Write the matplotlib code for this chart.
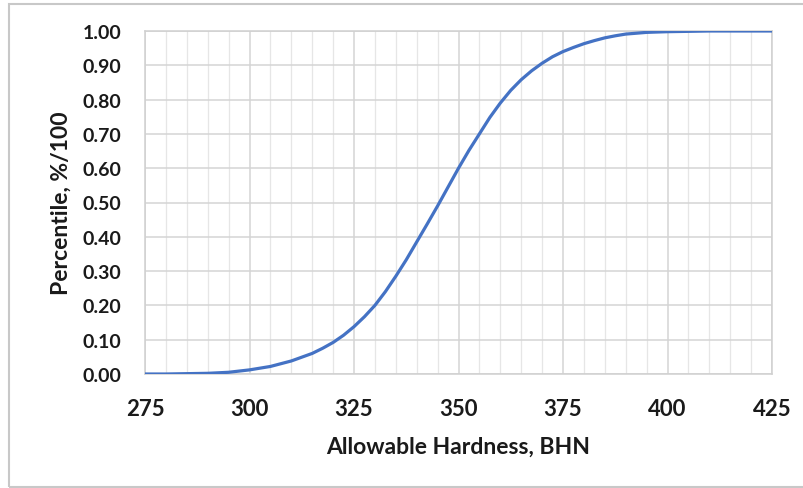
import matplotlib
matplotlib.use("Agg")
import matplotlib.pyplot as plt
from matplotlib.patches import Rectangle
from matplotlib.ticker import MultipleLocator

plt.rcParams['font.family'] = ['Lato', 'DejaVu Sans']

# Cumulative distribution of allowable hardness
hardness = [275, 280, 285, 290, 295, 300, 305, 310, 315, 317.5, 320, 322.5,
            325, 327.5, 330, 332.5, 335, 337.5, 340, 342.5, 345, 347.5, 350, 352.5,
            355, 357.5, 360, 362.5, 365, 367.5, 370, 372.5, 375, 377.5, 380, 382.5,
            385, 387.5, 390, 395, 400, 405, 410, 415, 420, 425]
percentile = [0.000, 0.000, 0.001, 0.002, 0.005, 0.012, 0.022, 0.038, 0.060, 0.075, 0.092, 0.113,
              0.138, 0.167, 0.200, 0.240, 0.285, 0.333, 0.385, 0.437, 0.490, 0.545, 0.600, 0.652,
              0.700, 0.748, 0.790, 0.827, 0.858, 0.884, 0.906, 0.925, 0.940, 0.952, 0.963, 0.972,
              0.980, 0.986, 0.991, 0.996, 0.998, 0.999, 1.000, 1.000, 1.000, 1.000]

x_ticks = [275, 300, 325, 350, 375, 400, 425]
y_ticks = [0.0, 0.1, 0.2, 0.3, 0.4, 0.5, 0.6, 0.7, 0.8, 0.9, 1.0]

W, H = 804, 489
fig = plt.figure(figsize=(W / 100, H / 100), dpi=100)
fig.patch.set_facecolor('white')

# outer chart border
fig.patches.append(Rectangle((9 / W, 1 - 488 / H), 810 / W, 483 / H,
                             transform=fig.transFigure, fill=False,
                             edgecolor='#c8c8c8', linewidth=1.5))

ax = fig.add_axes([145 / W, 1 - 375 / H, 627 / W, 343 / H])
ax.plot(hardness, percentile, color='#4472C4', linewidth=2.3,
        solid_capstyle='round', solid_joinstyle='round', zorder=3)

ax.set_xlim(275, 425)
ax.set_ylim(0, 1.0)
ax.set_xticks(x_ticks)
ax.set_yticks(y_ticks)
ax.set_yticklabels(['{:.2f}'.format(v) for v in y_ticks])
ax.xaxis.set_minor_locator(MultipleLocator(5))

ax.grid(which='major', color='#d4d4d4', linewidth=1.1, zorder=0)
ax.grid(which='minor', axis='x', color='#e6e6e6', linewidth=0.9, zorder=0)
ax.set_axisbelow(True)

for side in ['left', 'right', 'top', 'bottom']:
    ax.spines[side].set_color('#d0d0d0')
    ax.spines[side].set_linewidth(1.1)

ax.tick_params(which='both', length=0)
ax.tick_params(axis='y', pad=17, labelsize=14)
ax.tick_params(axis='x', pad=17, labelsize=16)
for lbl in ax.get_xticklabels() + ax.get_yticklabels():
    lbl.set_fontweight('bold')
    lbl.set_color('#1a1a1a')

ax.set_xlabel('Allowable Hardness, BHN', fontsize=16.5, fontweight='bold',
              color='#1a1a1a', labelpad=12)
ax.set_ylabel('Percentile, %/100', fontsize=16.5, fontweight='bold',
              color='#1a1a1a', labelpad=8)

fig.savefig('out.png', dpi=100)
